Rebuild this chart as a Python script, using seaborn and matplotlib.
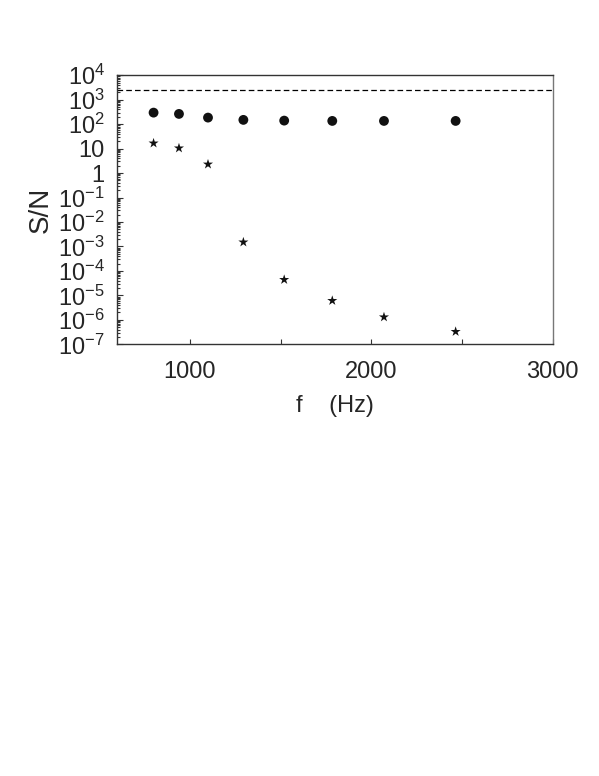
import numpy as np
import pandas as pd
import matplotlib
matplotlib.use("Agg")
import matplotlib.pyplot as plt
import seaborn as sns
from matplotlib.ticker import LogLocator, FixedLocator, NullFormatter

sns.set_theme(style="ticks")
plt.rcParams["font.family"] = ["Liberation Sans", "DejaVu Sans"]
plt.rcParams["mathtext.fontset"] = "custom"
plt.rcParams["mathtext.rm"] = "Liberation Sans"
plt.rcParams["mathtext.it"] = "Liberation Sans"

# frequency (Hz) of each measurement
freq = [800, 940, 1100, 1295, 1520, 1785, 2070, 2465]
# S/N, upper series (filled circles)
sn_circles = [297, 263, 186, 150, 140, 136, 136, 136]
# S/N, lower series (stars)
sn_stars = [16.7, 10.5, 2.3, 1.5e-3, 4.4e-5, 6.1e-6, 1.3e-6, 3.3e-7]
# reference level (dashed line)
sn_limit = 2400

ytick_vals = [1e4, 1e3, 1e2, 1e1, 1, 1e-1, 1e-2, 1e-3, 1e-4, 1e-5, 1e-6, 1e-7]
ytick_labels = [r"$10^{4}$", r"$10^{3}$", r"$10^{2}$", "10", "1",
                r"$10^{-1}$", r"$10^{-2}$", r"$10^{-3}$", r"$10^{-4}$",
                r"$10^{-5}$", r"$10^{-6}$", r"$10^{-7}$"]
xtick_vals = [1000, 2000, 3000]

df = pd.DataFrame({"f": freq, "circ": sn_circles, "star": sn_stars})

fig = plt.figure(figsize=(5.99, 7.76), dpi=100)
ax = fig.add_axes([0.1958, 0.5563, 0.7269, 0.3467])

ax.axhline(sn_limit, color="black", lw=0.9, ls=(0, (4.5, 2.5)))
sns.scatterplot(data=df, x="f", y="circ", ax=ax, color="#111111",
                s=50, edgecolor="none", marker="o", legend=False)
sns.scatterplot(data=df, x="f", y="star", ax=ax, color="#111111",
                s=58, marker="*", edgecolor="none", legend=False)

ax.set_yscale("log")
ax.set_xlim(600, 3000)
ax.set_ylim(1e-7, 1e4)
ax.set_yticks(ytick_vals)
ax.set_yticklabels(ytick_labels)
ax.yaxis.set_minor_locator(LogLocator(base=10, subs=np.arange(2, 10), numticks=50))
ax.yaxis.set_minor_formatter(NullFormatter())
ax.set_xticks(xtick_vals)
ax.set_xticklabels([str(v) for v in xtick_vals])
ax.xaxis.set_minor_locator(FixedLocator([1500, 2500]))

ax.tick_params(axis="both", which="both", direction="in", color="#333333",
               labelsize=17, width=0.8)
ax.tick_params(axis="y", which="major", length=4, pad=9)
ax.tick_params(axis="y", which="minor", length=2.5)
ax.tick_params(axis="x", which="both", length=3.5, pad=12)

for name, sp in ax.spines.items():
    sp.set_visible(True)
    sp.set_color("#333333")
    sp.set_linewidth(1.0)
ax.spines["right"].set_color("#777777")

ax.set_xlabel("f    (Hz)", fontsize=17, labelpad=9)
ax.set_ylabel("S/N", fontsize=20, labelpad=3)
ax.grid(False)

fig.savefig("out.png", dpi=100)
